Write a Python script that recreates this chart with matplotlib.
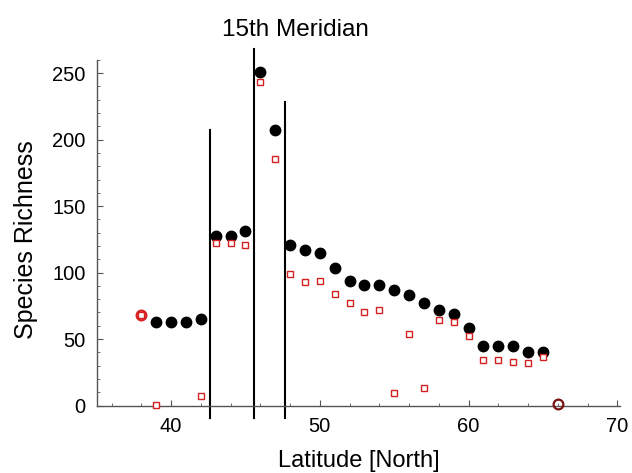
import numpy as np
import matplotlib
matplotlib.use("Agg")
import matplotlib.pyplot as plt
from matplotlib.ticker import MultipleLocator, FixedLocator

plt.rcParams['font.family'] = ['Liberation Sans', 'DejaVu Sans']

# latitude bands (degrees north)
latitude = [39, 40, 41, 42, 43, 44, 45, 46, 47, 48, 49, 50, 51, 52,
            53, 54, 55, 56, 57, 58, 59, 60, 61, 62, 63, 64, 65]
# total species richness (black dots)
richness_total = [63, 63, 63, 65, 127.5, 127.5, 131, 250.5, 207, 120.5, 117, 114.5, 103.5, 93.5,
                  90.5, 90.5, 87, 83.5, 77, 71.5, 69, 58, 44.5, 45, 45, 40, 40]
# second series (red open squares)
lat_red = [38, 39, 42, 43, 44, 45, 46, 47, 48, 49, 50, 51, 52,
           53, 54, 55, 56, 57, 58, 59, 60, 61, 62, 63, 64, 65]
richness_red = [68, 0.5, 7.5, 122, 122, 120.5, 243.5, 185.5, 99, 93, 94, 84, 77,
                70.5, 71.5, 9.5, 54, 13, 64.5, 63, 52, 34.5, 34, 32.5, 32, 36.5]
# points where both series coincide (open circles)
lat_ring = [38, 66]
richness_ring = [68, 1.2]
ring_colors = ['#d42020', '#7a1010']

# vertical separator lines: position, top
sep_x = [42.62, 45.6, 47.65]
sep_top = [207, 268, 228.5]
sep_bottom = -9

fig = plt.figure(figsize=(6.32, 4.73), dpi=100)
ax = fig.add_axes([0.1530, 0.1145, 0.8285, 0.759])

for x, top in zip(sep_x, sep_top):
    ax.plot([x, x], [sep_bottom, top], color='black', lw=1.5, clip_on=False, zorder=2)

ax.plot(latitude, richness_total, 'o', color='black', ms=7.5, zorder=3, clip_on=False)
ax.plot(lat_red, richness_red, 's', mfc='white', mec='#d42020', mew=1.0, ms=5, zorder=4,
        clip_on=False)
for x, y, c in zip(lat_ring, richness_ring, ring_colors):
    ax.plot(x, y, 'o', mfc='none', mec=c, mew=1.6, ms=7, zorder=5, clip_on=False)

ax.set_xlim(35, 70.2)
ax.set_ylim(-10, 260)

for s in ['top', 'right']:
    ax.spines[s].set_visible(False)
ax.spines['bottom'].set_position(('data', 0))
ax.spines['left'].set_bounds(0, 260)
for s in ['bottom', 'left']:
    ax.spines[s].set_color('#555555')
    ax.spines[s].set_linewidth(1.0)

ax.set_xticks([40, 50, 60, 70])
ax.set_yticks([0, 50, 100, 150, 200, 250])
ax.xaxis.set_minor_locator(MultipleLocator(2))
ax.yaxis.set_minor_locator(FixedLocator(np.arange(10, 261, 10)))
ax.tick_params(which='both', direction='in', color='#555555')
ax.tick_params(which='major', length=4, width=0.8, labelsize=14.5, pad=8)
ax.tick_params(which='minor', length=2, width=0.6)

ax.set_xlabel('Latitude [North]', fontsize=17, labelpad=10)
ax.set_ylabel('Species Richness', fontsize=18, labelpad=10)
fig.text(295 / 632, 1 - 30 / 473, '15th Meridian', fontsize=17.5, ha='center', va='center')

fig.savefig('out.png', dpi=100)
